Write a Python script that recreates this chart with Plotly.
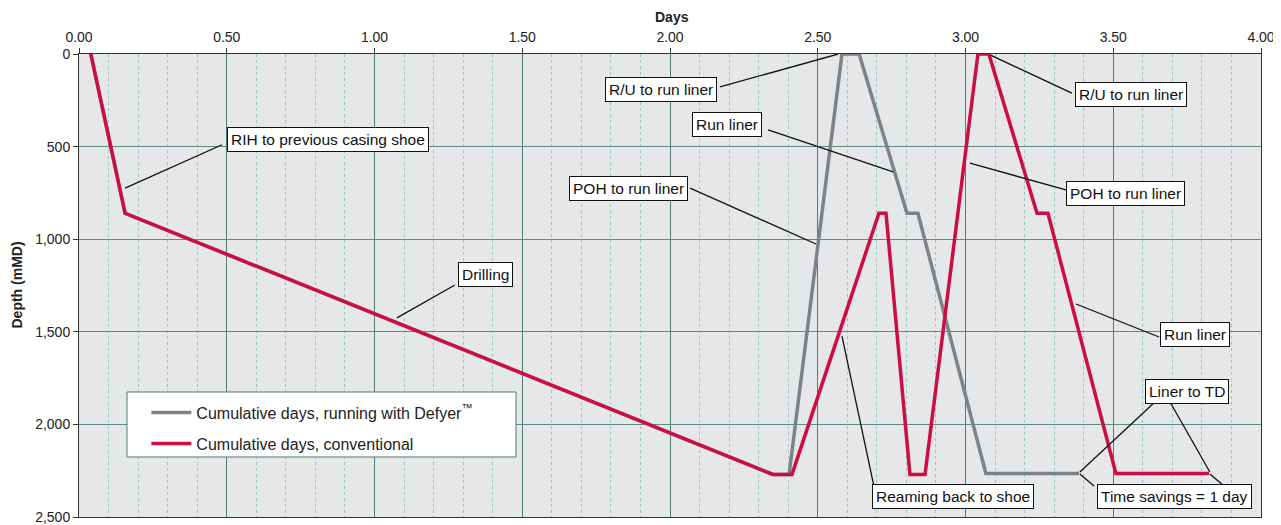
import plotly.graph_objects as go

# Data (days, depth mMD)
conv_days = [0.04, 0.156, 2.348, 2.413, 2.707, 2.731, 2.812, 2.863, 3.042, 3.079, 3.242, 3.279, 3.509, 3.824]
conv_depth = [0, 860, 2270, 2270, 860, 860, 2270, 2270, 0, 0, 860, 860, 2265, 2265]

defyer_days = [0.04, 0.156, 2.348, 2.403, 2.582, 2.640, 2.802, 2.839, 3.069, 3.384]
defyer_depth = [0, 860, 2270, 2270, 0, 0, 860, 860, 2265, 2265]

x_ticks = [0, 0.5, 1.0, 1.5, 2.0, 2.5, 3.0, 3.5, 4.0]
y_ticks = [0, 500, 1000, 1500, 2000, 2500]

# Callout labels: text, box centre (days, depth)
labels = [
    ("RIH to previous casing shoe", 0.843, 464),
    ("Drilling", 1.374, 1188),
    ("R/U to run liner", 1.970, 189),
    ("Run liner", 2.193, 383),
    ("POH to run liner", 1.858, 724),
    ("Reaming back to shoe", 2.958, 2387),
    ("R/U to run liner", 3.560, 221),
    ("POH to run liner", 3.543, 751),
    ("Run liner", 3.777, 1517),
    ("Liner to TD", 3.750, 1820),
    ("Time savings = 1 day", 3.706, 2387),
]
# Leader lines: (x0, y0, x1, y1)
leaders = [
    (0.484, 490, 0.156, 724),
    (1.272, 1247, 1.076, 1425),
    (2.169, 178, 2.569, 0),
    (2.332, 410, 2.755, 637),
    (2.068, 724, 2.494, 1026),
    (2.690, 2333, 2.582, 1523),
    (3.360, 211, 3.083, 5),
    (3.340, 734, 3.015, 589),
    (3.655, 1528, 3.374, 1350),
    (3.641, 1879, 3.387, 2257),
    (3.692, 1879, 3.827, 2257),
    (3.435, 2333, 3.387, 2268),
    (3.875, 2333, 3.827, 2268),
]

RED = "#CC0F40"
GRAY = "#7D8389"
FONT = "Liberation Sans, Arial, sans-serif"

fig = go.Figure()
fig.add_trace(go.Scatter(x=defyer_days, y=defyer_depth, mode="lines",
                         line=dict(color=GRAY, width=3.5), legendgroup="a",
                         name="Cumulative days, running with Defyer<sup>™</sup>"))
fig.add_trace(go.Scatter(x=conv_days, y=conv_depth, mode="lines",
                         line=dict(color=RED, width=3.5), legendgroup="b",
                         name="Cumulative days, conventional"))

shapes = []
for x0, y0, x1, y1 in leaders:
    shapes.append(dict(type="line", xref="x", yref="y", x0=x0, y0=y0, x1=x1, y1=y1,
                       line=dict(color="#111111", width=1.3), layer="above"))
# legend box
shapes.append(dict(type="rect", xref="paper", yref="paper", x0=0.0406, x1=0.3697,
                   y0=0.1296, y1=0.270, fillcolor="white",
                   line=dict(color="#4E7A72", width=1), layer="above"))

annotations = []
for text, x, y in labels:
    annotations.append(dict(text=text, x=x, y=y, xref="x", yref="y", showarrow=False,
                            font=dict(family=FONT, size=15.5, color="#111111"),
                            bgcolor="white", bordercolor="#111111", borderwidth=1,
                            borderpad=3))
# axis titles
annotations.append(dict(text="<b>Days</b>", xref="paper", yref="paper", x=0.502, y=1.0,
                        yshift=37, yanchor="middle", showarrow=False,
                        font=dict(family=FONT, size=14, color="#222222")))
annotations.append(dict(text="<b>Depth (mMD)</b>", xref="paper", yref="paper", x=0.0, y=0.5,
                        xshift=-63, xanchor="center", textangle=-90, showarrow=False,
                        font=dict(family=FONT, size=14, color="#222222")))

fig.update_layout(
    width=1273, height=517,
    margin=dict(l=71, r=20, t=46, b=8),
    paper_bgcolor="white",
    plot_bgcolor="#E5E7E8",
    font=dict(family=FONT, size=14, color="#222222"),
    shapes=shapes,
    annotations=annotations,
    showlegend=True,
    legend=dict(x=0.057, y=0.262, xanchor="left", yanchor="top",
                bgcolor="rgba(0,0,0,0)", borderwidth=0,
                font=dict(family=FONT, size=16, color="#222222"),
                tracegroupgap=7, itemwidth=40),
    xaxis=dict(
        side="top", range=[0, 4], tickvals=x_ticks, tickformat=".2f",
        automargin=False,
        showline=True, linecolor="#333333", linewidth=1, mirror=True,
        ticks="outside", ticklen=5, tickcolor="#333333",
        tickfont=dict(size=14),
        showgrid=True, gridcolor="#4F7E75", gridwidth=1,
        minor=dict(dtick=0.1, showgrid=True, gridcolor="#9EC2BC", griddash="dot", gridwidth=1),
        zeroline=False,
    ),
    yaxis=dict(
        range=[2500, 0], tickvals=y_ticks, tickformat=",",
        automargin=False,
        showline=True, linecolor="#333333", linewidth=1, mirror=True,
        ticks="outside", ticklen=5, tickcolor="#333333",
        tickfont=dict(size=14),
        showgrid=True, gridcolor="#5E8C84", gridwidth=1,
        zeroline=False,
    ),
)

fig.write_html("out.html")
